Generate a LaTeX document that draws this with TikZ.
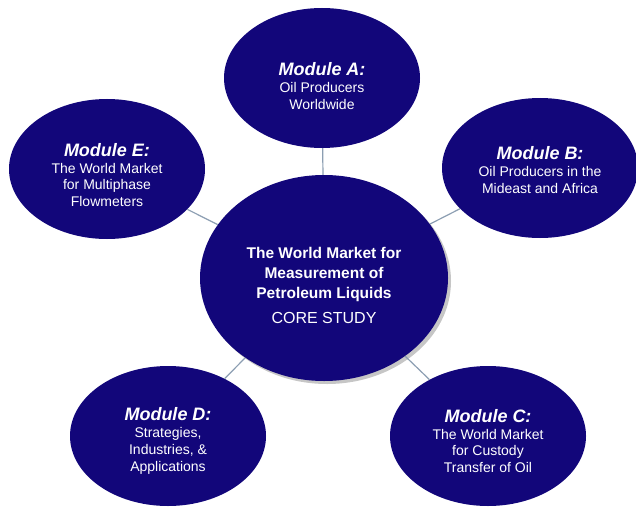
\documentclass[tikz,border=0pt]{standalone}
\usepackage{fontspec}
\setmainfont{Liberation Sans}
\usepackage{xcolor}
\usetikzlibrary{positioning, shapes.geometric}

\definecolor{navy}{RGB}{18,6,122}
\definecolor{linkgray}{RGB}{140,158,178}
\newcommand{\modtitle}[1]{{\fontsize{18}{20}\selectfont\bfseries\itshape #1}}

\begin{document}
\begin{tikzpicture}[
    x=1pt, y=-1pt,
    mod/.style={ellipse, fill=navy, inner sep=0pt, minimum width=196pt, minimum height=140pt},
    core/.style={ellipse, fill=navy, inner sep=0pt, minimum width=248pt, minimum height=206pt},
    modtext/.style={text=white, inner sep=0pt, align=center, font=\fontsize{14}{16.8}\selectfont},
    coretext/.style={text=white, inner sep=0pt, align=center, font=\fontsize{15.5}{20}\selectfont\bfseries},
    link/.style={draw=linkgray, line width=1.2pt}
]
\useasboundingbox (0,0) rectangle (636,508);

% shadow of the core study
\fill[gray!45] (327,281) ellipse (124pt and 103pt);

\node[core] (study) at (324,278) {};
\node[mod] (modA) at (322,78) {};
\node[mod] (modB) at (540,168) {};
\node[mod] (modC) at (488,436) {};
\node[mod] (modD) at (168,436) {};
\node[mod] (modE) at (107,169) {};

\foreach \m in {modA, modB, modC, modD, modE}
    \draw[link] (study) -- (\m);

% texts
\node[coretext] (studytext) at ([yshift=-7pt]study.center) {The World Market for\\Measurement of\\Petroleum Liquids\\[5pt]{\mdseries\fontsize{16}{20}\selectfont CORE STUDY}};
\node[modtext] (modAtext) at ([yshift=-8pt]modA.center) {\modtitle{Module A:}\\Oil Producers\\Worldwide};
\node[modtext] (modBtext) at ([yshift=-2pt]modB.center) {\modtitle{Module B:}\\Oil Producers in the\\Mideast and Africa};
\node[modtext] (modCtext) at ([yshift=-5pt]modC.center) {\modtitle{Module C:}\\The World Market\\for Custody\\Transfer of Oil};
\node[modtext] (modDtext) at ([yshift=-5pt]modD.center) {\modtitle{Module D:}\\Strategies,\\Industries, \&\\Applications};
\node[modtext] (modEtext) at ([yshift=-6pt]modE.center) {\modtitle{Module E:}\\The World Market\\for Multiphase\\Flowmeters};

\end{tikzpicture}
\end{document}
